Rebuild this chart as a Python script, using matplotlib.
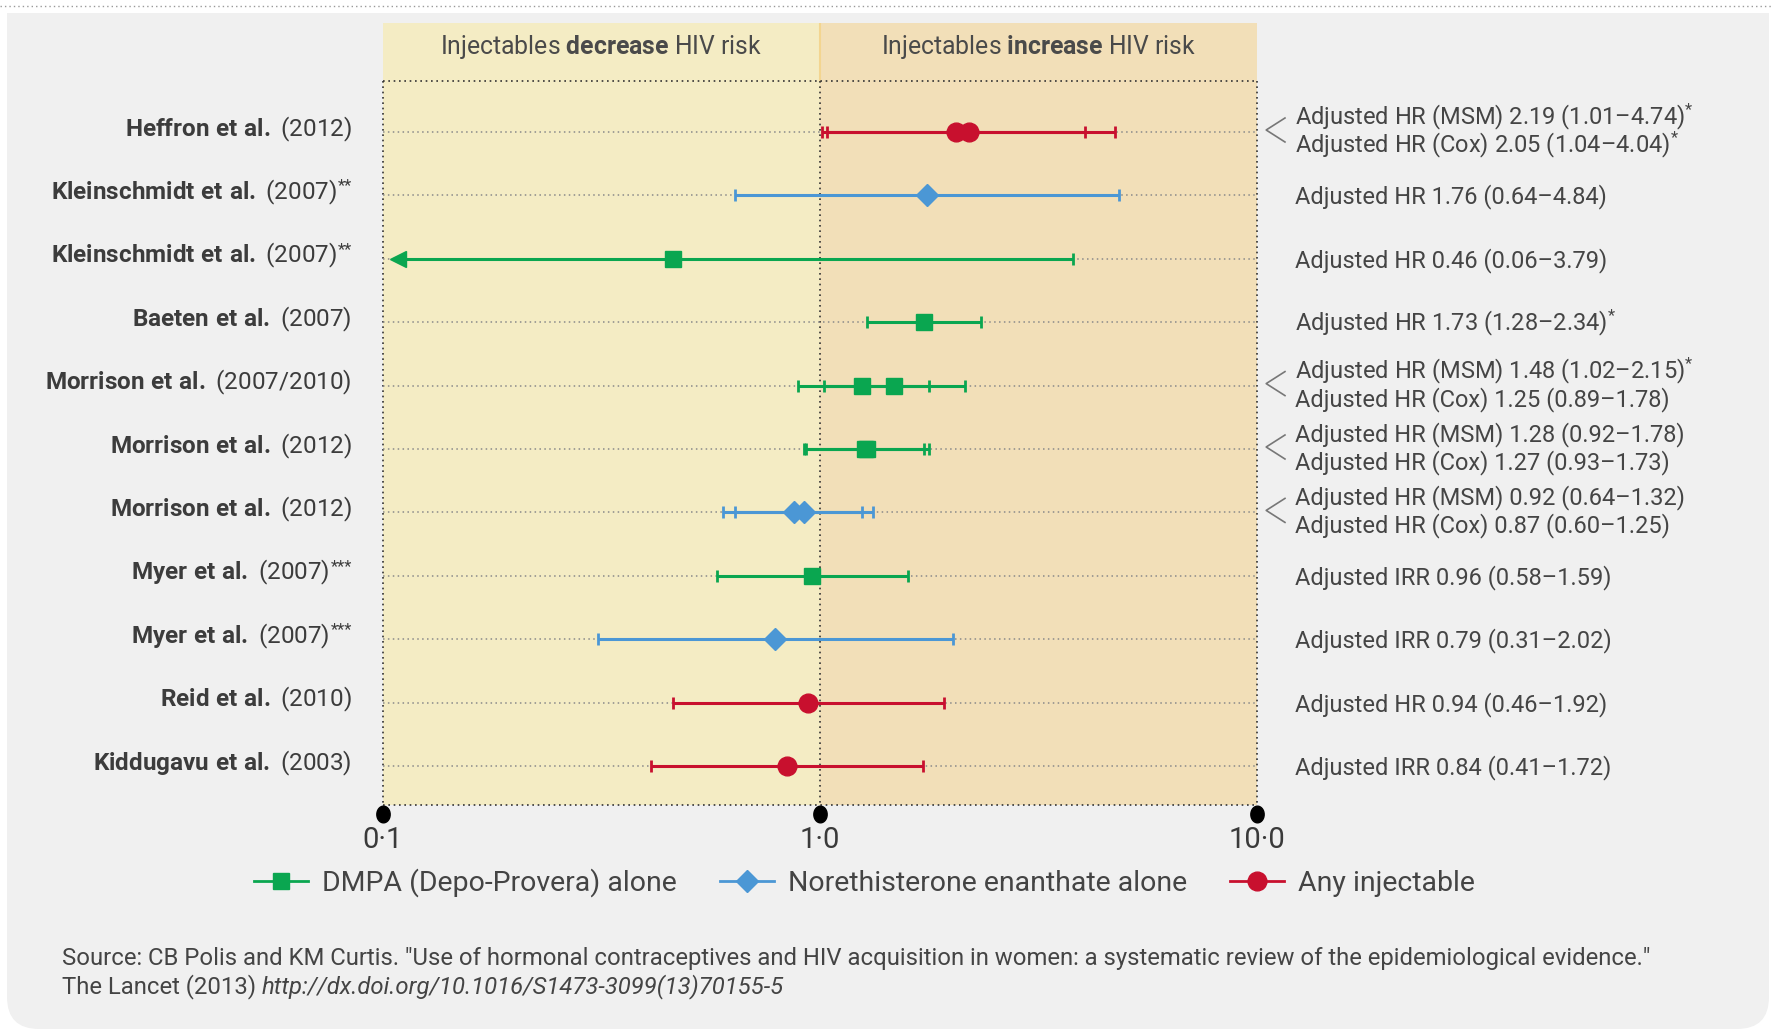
import matplotlib
matplotlib.use('Agg')
import numpy as np
import matplotlib.pyplot as plt
import matplotlib.transforms as mtransforms
from matplotlib.lines import Line2D
from matplotlib.patches import FancyBboxPatch, Rectangle

plt.rcParams['font.family'] = ['Roboto', 'DejaVu Sans']
plt.rcParams['mathtext.fontset'] = 'custom'
plt.rcParams['mathtext.rm'] = 'Roboto'
plt.rcParams['mathtext.bf'] = 'Roboto:bold'
plt.rcParams['mathtext.it'] = 'Roboto:italic'

# ---- data ----
studies = ['Heffron et al.', 'Kleinschmidt et al.', 'Kleinschmidt et al.', 'Baeten et al.',
           'Morrison et al.', 'Morrison et al.', 'Morrison et al.', 'Myer et al.',
           'Myer et al.', 'Reid et al.', 'Kiddugavu et al.']
years = ['(2012)', '(2007)', '(2007)', '(2007)', '(2007/2010)', '(2012)', '(2012)',
         '(2007)', '(2007)', '(2010)', '(2003)']
notes = ['', '**', '**', '', '', '', '', '***', '***', '', '']
groups = ['any', 'net', 'dmpa', 'dmpa', 'dmpa', 'dmpa', 'net', 'dmpa', 'net', 'any', 'any']
estimates = [[2.19, 2.05], [1.76], [0.46], [1.73], [1.48, 1.25], [1.28, 1.27],
             [0.92, 0.87], [0.96], [0.79], [0.94], [0.84]]
ci_low = [[1.01, 1.04], [0.64], [0.06], [1.28], [1.02, 0.89], [0.92, 0.93],
          [0.64, 0.60], [0.58], [0.31], [0.46], [0.41]]
ci_high = [[4.74, 4.04], [4.84], [3.79], [2.34], [2.15, 1.78], [1.78, 1.73],
           [1.32, 1.25], [1.59], [2.02], [1.92], [1.72]]
result_text = [
    ['Adjusted HR (MSM) 2.19 (1.01–4.74)$^{*}$', 'Adjusted HR (Cox) 2.05 (1.04–4.04)$^{*}$'],
    ['Adjusted HR 1.76 (0.64–4.84)'],
    ['Adjusted HR 0.46 (0.06–3.79)'],
    ['Adjusted HR 1.73 (1.28–2.34)$^{*}$'],
    ['Adjusted HR (MSM) 1.48 (1.02–2.15)$^{*}$', 'Adjusted HR (Cox) 1.25 (0.89–1.78)'],
    ['Adjusted HR (MSM) 1.28 (0.92–1.78)', 'Adjusted HR (Cox) 1.27 (0.93–1.73)'],
    ['Adjusted HR (MSM) 0.92 (0.64–1.32)', 'Adjusted HR (Cox) 0.87 (0.60–1.25)'],
    ['Adjusted IRR 0.96 (0.58–1.59)'],
    ['Adjusted IRR 0.79 (0.31–2.02)'],
    ['Adjusted HR 0.94 (0.46–1.92)'],
    ['Adjusted IRR 0.84 (0.41–1.72)'],
]
x_ticks = [0.1, 1.0, 10.0]
x_ticklabels = ['0·1', '1·0', '10·0']
group_names = {'dmpa': 'DMPA (Depo-Provera) alone',
               'net': 'Norethisterone enanthate alone',
               'any': 'Any injectable'}

# ---- styles ----
colors = {'dmpa': '#0aa650', 'net': '#4b97d5', 'any': '#c8102e'}
markers = {'dmpa': 's', 'net': 'D', 'any': 'o'}
msizes = {'dmpa': 12, 'net': 11.5, 'any': 13.5}
text_col = '#454545'
dot = (0, (1, 2.2))

fig = plt.figure(figsize=(17.73, 10.29), dpi=100)
fig.patch.set_facecolor('white')

# grey panel with rounded bottom corners
panel = FancyBboxPatch((0.07, 0.0), 17.62, 10.16, boxstyle='round,pad=0,rounding_size=0.32',
                       transform=fig.dpi_scale_trans, facecolor='#f0f0f0', edgecolor='none',
                       zorder=-10)
fig.add_artist(panel)
fig.add_artist(Rectangle((0.07, 5.0), 17.62, 5.16, transform=fig.dpi_scale_trans,
                         facecolor='#f0f0f0', edgecolor='none', zorder=-10))
fig.add_artist(Line2D([0, 1], [1 - 6 / 1029, 1 - 6 / 1029], transform=fig.transFigure,
                      color='#9a9a9a', lw=1.0, linestyle=dot))

ax = fig.add_axes([383 / 1773, 1 - 805 / 1029, 874 / 1773, 782 / 1029])
ax.set_xscale('log')
ax.set_xlim(0.1, 10)
n = len(studies)
row_px = 63.4
top_y = -109 / row_px
bottom_y = n - 1 + 39 / row_px
ax.set_ylim(bottom_y, top_y)
ax.patch.set_alpha(0)
for s in ax.spines.values():
    s.set_visible(False)
ax.set_yticks([])
ax.minorticks_off()
ax.set_xticks(x_ticks)
ax.set_xticklabels(x_ticklabels, fontsize=21, color='#3a3a3a')
ax.tick_params(axis='x', length=0, pad=15)

# shaded halves
ax.axvspan(0.1, 1, color='#f4ecc4', zorder=0, lw=0)
ax.axvspan(1, 10, color='#f2dfb8', zorder=0, lw=0)

header_y = top_y + 58 / row_px
ax.plot([1, 1], [top_y, header_y], color='#f3d590', lw=1.5, zorder=1)
for xv in x_ticks:
    ax.plot([xv, xv], [header_y, bottom_y], color='#333333', lw=1.2, linestyle=dot,
            zorder=2, clip_on=False)
for yv in [header_y, bottom_y]:
    ax.plot([0.1, 10], [yv, yv], color='#333333', lw=1.2, linestyle=dot, zorder=2,
            clip_on=False)

# header texts
ax.text(np.sqrt(0.1 * 1), top_y + 24 / row_px, r'Injectables $\mathbf{decrease}$ HIV risk',
        ha='center', va='center', fontsize=17.8, color='#4a4a4a')
ax.text(np.sqrt(1 * 10), top_y + 24 / row_px, r'Injectables $\mathbf{increase}$ HIV risk',
        ha='center', va='center', fontsize=17.8, color='#4a4a4a')

# tick dots
t = np.linspace(0, 2 * np.pi, 40)
ellipse = list(zip(0.8 * np.cos(t), np.sin(t)))
ax.plot(x_ticks, [bottom_y + 9 / row_px] * 3, linestyle='none', marker=ellipse, ms=12,
        color='black', clip_on=False, zorder=5)

trans = mtransforms.blended_transform_factory(ax.transAxes, ax.transData)
px = 1 / row_px
arrow_x = 0.1 * 1.08

for i in range(n):
    c = colors[groups[i]]
    # row guide line
    ax.plot([0.1, 10], [i, i], color='#8a8a8a', lw=1.1, linestyle=dot, zorder=2)
    for lo, hi in zip(ci_low[i], ci_high[i]):
        left = max(lo, arrow_x)
        ax.plot([left, hi], [i, i], color=c, lw=2.2, zorder=3, solid_capstyle='butt')
        caps = [hi] if lo < 0.1 else [lo, hi]
        ax.plot(caps, [i] * len(caps), linestyle='none', marker='|', ms=9, mew=2,
                color=c, zorder=3)
        if lo < 0.1:
            ax.plot([arrow_x], [i], marker='<', ms=12, color=c, zorder=4)
    ax.plot(estimates[i], [i] * len(estimates[i]), linestyle='none',
            marker=markers[groups[i]], ms=msizes[groups[i]], color=c, mec=c, zorder=4)

    # study label (bold name + regular year), footnote stars as a small raised text
    name = studies[i].replace(' ', r'\ ')
    label = r'$\mathbf{%s}$ %s' % (name, years[i])
    if notes[i]:
        note = ax.text(-0.0355, i + 4 * px, notes[i], transform=trans, ha='right',
                       va='baseline', fontsize=12, color='#3c3c3c')
        ax.annotate(label, xy=(0, i + 4 * px), xycoords=(note, trans),
                    xytext=(-0.5, 0), textcoords='offset points',
                    ha='right', va='baseline', fontsize=17.5, color='#3c3c3c')
        note.set_y(i - 5 * px)
    else:
        ax.text(-0.0355, i + 4 * px, label, transform=trans, ha='right', va='baseline',
                fontsize=17.5, color='#3c3c3c')

    # result text on the right
    lines = result_text[i]
    if len(lines) == 1:
        ax.text(1.0435, i + 8.5 * px, lines[0], transform=trans, ha='left', va='baseline',
                fontsize=17, color=text_col)
    else:
        ax.text(1.0435, i - 7.5 * px, lines[0], transform=trans, ha='left', va='baseline',
                fontsize=17, color=text_col)
        ax.text(1.0435, i + 20.5 * px, lines[1], transform=trans, ha='left', va='baseline',
                fontsize=17, color=text_col)
        cy = i - 2 * px
        ax.plot([1.032, 1.0105, 1.032], [cy - 12 * px, cy, cy + 12 * px], transform=trans,
                color='#777777', lw=1.2, clip_on=False)

# legend
handles = [Line2D([], [], color=colors[g], lw=2, marker=markers[g], ms=msizes[g],
                  label=group_names[g]) for g in ['dmpa', 'net', 'any']]
leg = fig.legend(handles=handles, loc='center', bbox_to_anchor=(0.4876, 1 - 883 / 1029),
                 ncol=3, frameon=False, fontsize=20.5, handlelength=1.9, handletextpad=0.5,
                 columnspacing=1.5)
for txt in leg.get_texts():
    txt.set_color('#444444')

# source
fig.text(62 / 1773, 1 - 965 / 1029,
         'Source: CB Polis and KM Curtis. "Use of hormonal contraceptives and HIV acquisition '
         'in women: a systematic review of the epidemiological evidence."',
         ha='left', va='baseline', fontsize=17.2, color='#444444')
src2 = fig.text(62 / 1773, 1 - 993 / 1029, 'The Lancet (2013) ', ha='left', va='baseline',
                fontsize=17.2, color='#444444')
url = fig.text(0, 1 - 993 / 1029, 'http://dx.doi.org/10.1016/S1473-3099(13)70155-5',
               fontsize=17.2, style='italic', color='#444444', ha='left', va='baseline')
# place italic URL right after the plain part
fig.canvas.draw()
bb = src2.get_window_extent()
url.set_x(bb.x1 / fig.bbox.width)

fig.savefig('out.png', dpi=100, facecolor=fig.get_facecolor())
